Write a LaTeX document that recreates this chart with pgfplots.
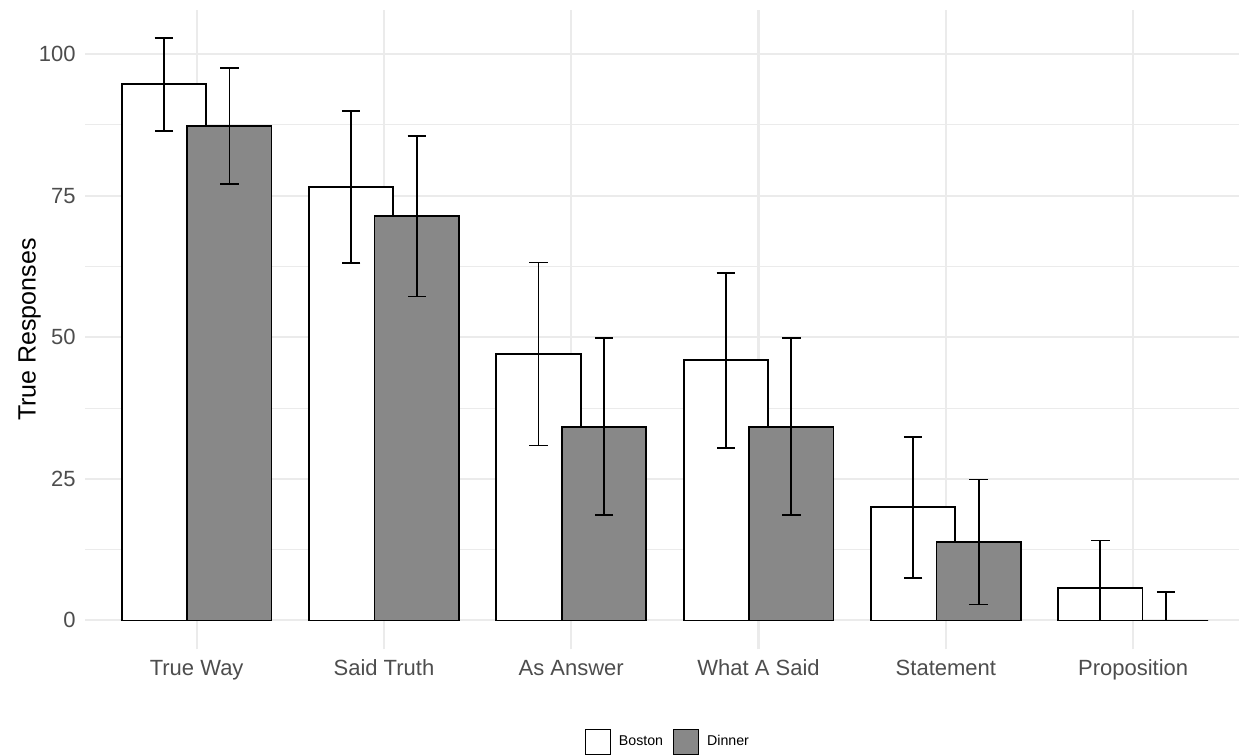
\documentclass[border=0pt]{standalone}
\usepackage{fontspec}
\setmainfont{Liberation Sans}
\usepackage{pgfplots}
\pgfplotsset{compat=1.18}
\usepackage{pgfplotstable}
\definecolor{dinner}{HTML}{888888}
\definecolor{gridc}{HTML}{EBEBEB}
\definecolor{ticktext}{HTML}{4D4D4D}

\pgfplotstableread{
x b bp bm d dp dm
1 94.7 8.1 8.2 87.3 10.2 10.2
2 76.6 13.4 13.5 71.4 14.2 14.2
3 47.0 16.2 16.1 34.2 15.7 15.6
4 46.0 15.4 15.5 34.2 15.7 15.6
5 20.0 12.4 12.5 13.8 11.1 11.0
6 5.7 8.4 5.7 0.0 5.0 0.0
}\data

\pgfplotsset{
  mylegend/.style={legend image code/.code={\draw[##1, line width=0.6pt] (0pt,-6.2pt) rectangle (12.4pt,6.2pt);}},
}

\begin{document}
\begin{tikzpicture}
\path[use as bounding box] (0,0) rectangle (619.5pt,377.5pt);
\begin{axis}[
  at={(42.5pt,52.85pt)}, anchor=south west,
  scale only axis, width=577pt, height=319.65pt,
  xmin=0.404, xmax=6.565, ymin=-5.1, ymax=107.8,
  xtick={1,...,6},
  xticklabels={True Way, Said Truth, As Answer, What A Said, Statement, Proposition},
  ytick={0,25,50,75,100},
  minor ytick={12.5,37.5,62.5,87.5},
  xmajorgrids, ymajorgrids, yminorgrids,
  major grid style={gridc, line width=1.07pt},
  minor grid style={gridc, line width=0.53pt},
  axis line style={draw=none},
  major tick length=0pt, minor tick length=0pt,
  tick label style={font=\fontsize{11}{13}\selectfont, text=ticktext},
  xticklabel style={yshift=-1.5pt, text height=8pt, text depth=2.3pt},
  yticklabel style={xshift=-1.2pt},
  /pgf/number format/assume math mode=true,
  ylabel={True Responses},
  ylabel style={font=\fontsize{12.5}{15}\selectfont, at={(axis description cs:-0.048,0.5)}, anchor=center},
  ybar, bar width=0.45,
  legend columns=2,
  legend style={at={(axis description cs:0.506,0)}, anchor=center, yshift=-46.5pt,
    draw=none, fill=none, font=\fontsize{7.1}{8}\selectfont,
    /tikz/every odd column/.append style={column sep=2pt},
    /tikz/every even column/.append style={column sep=3pt}},
]
\addplot[mylegend, fill=white, draw=black, line width=0.9pt, bar shift=-0.175,
  error bars/.cd, y dir=both, y explicit,
  error bar style={line width=0.9pt, black},
  error mark options={black, line width=0.9pt, mark size=4.6pt, rotate=90}]
  table[x=x, y=b, y error plus=bp, y error minus=bm]{\data};
\addlegendentry{Boston}
\addplot[mylegend, fill=dinner, draw=black, line width=0.9pt, bar shift=0.175,
  error bars/.cd, y dir=both, y explicit,
  error bar style={line width=0.9pt, black},
  error mark options={black, line width=0.9pt, mark size=4.6pt, rotate=90}]
  table[x=x, y=d, y error plus=dp, y error minus=dm]{\data};
\addlegendentry{Dinner}
\end{axis}
\end{tikzpicture}
\end{document}
